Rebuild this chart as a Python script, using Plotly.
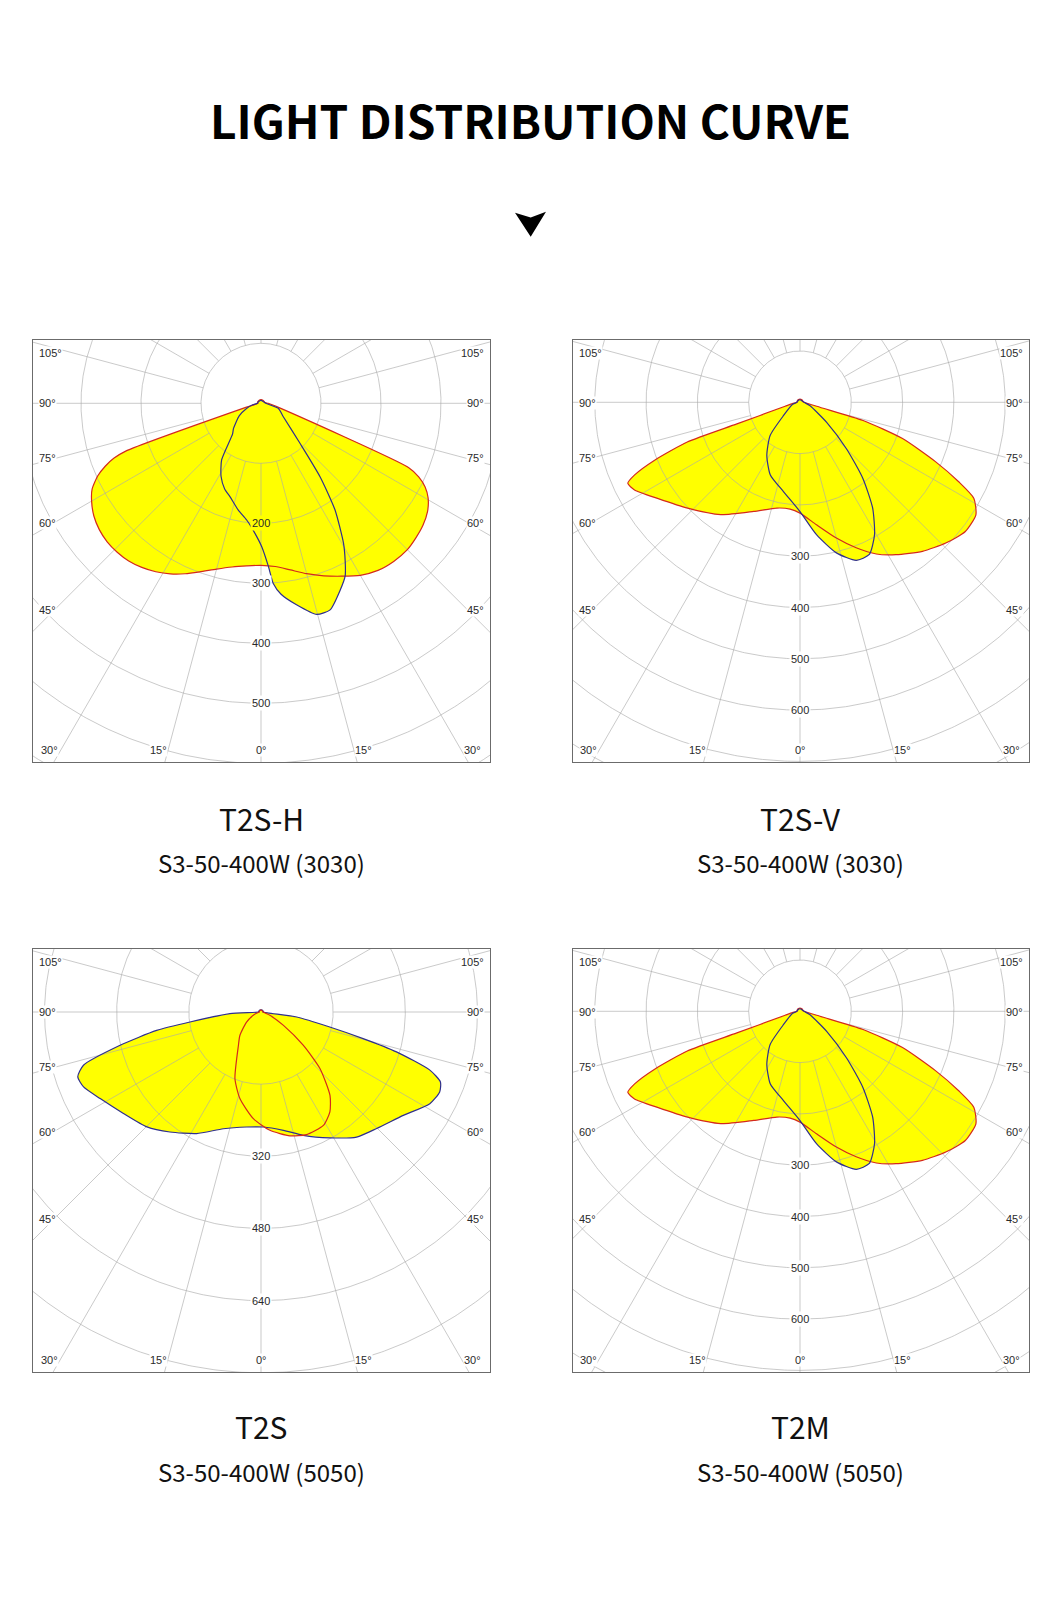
import numpy as np
import plotly.graph_objects as go

W, H = 1060, 1623

# ---------------- text ----------------
TITLE = "LIGHT DISTRIBUTION CURVE"
NAMES = ["T2S-H", "T2S-V", "T2S", "T2M"]
MODELS = ["S3-50-400W (3030)", "S3-50-400W (3030)", "S3-50-400W (5050)", "S3-50-400W (5050)"]

# ---------------- polar grid / tick values ----------------
RING_STEP = [100, 100, 160, 100]
RING_LABELS = [[200, 300, 400, 500], [300, 400, 500, 600], [320, 480, 640], [300, 400, 500, 600]]
SPOKE_STEP_DEG = 15
SIDE_ANGLE_LABELS = [105, 90, 75, 60, 45]
BOTTOM_ANGLE_LABELS = [-30, -15, 0, 15, 30]

# ---------------- intensity curves (angle deg from nadir, cd) ----------------
# negative angle = left half of the diagram
T2SH_MAIN_ANG = [-180, -150, -120, -100, -90, -75, -70.5, -69.5, -68, -66, -63, -60, -56, -52, -48,
                 -44, -40, -36, -32, -28, -24, -20, -15, -10, -5, 0, 5, 10, 15, 20, 25, 30, 35, 40, 45,
                 49, 53, 57, 60.5, 63, 65, 66.5, 76, 90, 100, 120, 150, 180]
T2SH_MAIN_CD = [6, 6, 6, 6, 5, 25, 240, 262, 280, 298, 316, 326, 336, 342, 345,
                345, 343, 338, 331, 322, 311, 299, 286, 277, 272, 270, 273, 282, 294, 306, 318, 331, 340, 344, 345,
                342, 338, 331, 320, 307, 290, 268, 33, 12, 7, 6, 6, 6]
T2SH_LOBE_ANG = [-180, -120, -90, -80, -70.8, -60, -47.6, -42.7, -34.8, -28.6, -23, -18.4, -12, -7, -3,
                 0.3, 2.6, 3.9, 6, 10, 14.8, 18.5, 23, 26, 28, 30.5, 34.8, 38.8, 44.3, 59.2, 73.9, 90, 120, 180]
T2SH_LOBE_CD = [5, 5, 6, 14, 25, 42, 62, 70, 115, 139, 155, 164, 182, 196, 215,
                239, 272, 301, 320, 341, 364, 363, 338, 320, 299, 271, 216, 157, 93, 43, 30, 8, 5, 5]

T2SV_MAIN_ANG = [-180, -150, -120, -100, -90, -80, -75, -71.1, -70.6, -68.3, -66.3, -64.8, -62.1, -56, -46.7,
                 -35.2, -23, -12.3, -5.3, 0, 7.7, 15, 21.1, 26.7, 32.2, 39.4, 46, 52, 57.4, 61.1,
                 63.4, 66.3, 70.5, 73.9, 76, 90, 100, 120, 150, 180]
T2SV_MAIN_CD = [6, 6, 6, 6, 6, 15, 30, 130, 233, 305, 352, 371, 365, 335, 301,
                268, 231, 211, 209, 216, 241, 274, 304, 331, 351, 376, 395, 409, 407, 387,
                346, 289, 212, 128, 40, 8, 6, 6, 6, 6]
T2SV_LOBE_ANG = [-180, -120, -90, -75, -51.3, -42, -32, -22.2, -10.5, 0, 7.1, 13.6, 19.6, 24.5, 29.4,
                 34.5, 39.6, 45, 53.1, 71.6, 90, 120, 180]
T2SV_LOBE_CD = [5, 5, 6, 15, 41, 87, 122, 153, 177, 213, 260, 302, 327, 326, 296,
                250, 192, 128, 65, 20, 8, 5, 5]

T2S_MAIN_ANG = [-180, -150, -120, -100, -90, -87, -82, -80, -76.7, -73.3, -70.5, -67.1, -61.7, -53.6, -44.8,
                -37.2, -27.9, -17.9, -7.1, 1.2, 10.7, 18.9, 28.7, 37.4, 44.8, 54, 61.5, 65.9, 68.7, 71,
                73.6, 75.4, 77.7, 82, 90, 100, 120, 150, 180]
T2S_MAIN_CD = [5, 5, 5, 5, 4, 69, 159, 235, 321, 411, 431, 427, 405, 379, 359,
               334, 305, 272, 257, 255, 267, 289, 318, 349, 364, 390, 426, 434, 427, 396,
               313, 234, 156, 80, 4, 5, 5, 5, 5]
T2S_LOBE_ANG = [-180, -120, -90, -70, -55.1, -42, -34.2, -21.3, -13.6, -4.1, 4.3, 13.2, 20.4, 28.8, 34.6,
                39.6, 46.2, 51.8, 59.2, 69.7, 90, 120, 180]
T2S_LOBE_CD = [4, 4, 4, 15, 39, 70, 89, 159, 198, 237, 263, 282, 290, 287, 269,
               240, 181, 119, 58, 21, 5, 4, 4]

T2M_MAIN_ANG = [-180, -150, -120, -100, -90, -80, -75, -71.1, -70.6, -68.3, -66.3, -64.8, -62.1, -56, -46.7,
                -35.2, -23, -12.3, -5.3, 0, 7.7, 15, 21.1, 26.7, 32.2, 39.4, 46, 52, 57.4, 61.1,
                63.4, 66.3, 70.5, 73.9, 76, 90, 100, 120, 150, 180]
T2M_MAIN_CD = [6, 6, 6, 6, 6, 15, 30, 130, 233, 305, 352, 371, 365, 335, 301,
               268, 231, 211, 209, 216, 241, 274, 304, 331, 351, 376, 395, 409, 407, 387,
               346, 289, 212, 128, 40, 8, 6, 6, 6, 6]
T2M_LOBE_ANG = [-180, -120, -90, -75, -51.3, -42, -32, -22.2, -10.5, 0, 7.1, 13.6, 19.6, 24.5, 29.4,
                34.5, 39.6, 45, 53.1, 71.6, 90, 120, 180]
T2M_LOBE_CD = [5, 5, 6, 15, 41, 87, 122, 153, 177, 213, 260, 302, 327, 326, 296,
               250, 192, 128, 65, 20, 8, 5, 5]

# ---------------- styles ----------------
YELLOW = "#FFFF00"
RED = "#d42a1c"
BLUE = "#2f2f8e"
GRID = "rgba(170,170,170,0.62)"
BORDER = "#6b6b6b"
LABEL_FONT = dict(family="Liberation Sans, Arial, sans-serif", size=11, color="#2a2a2a")
CJK = "Noto Sans CJK SC, Noto Sans, sans-serif"

PANELS = [
    dict(main=(T2SH_MAIN_ANG, T2SH_MAIN_CD), lobe=(T2SH_LOBE_ANG, T2SH_LOBE_CD), main_col=RED, lobe_col=BLUE),
    dict(main=(T2SV_MAIN_ANG, T2SV_MAIN_CD), lobe=(T2SV_LOBE_ANG, T2SV_LOBE_CD), main_col=RED, lobe_col=BLUE),
    dict(main=(T2S_MAIN_ANG, T2S_MAIN_CD), lobe=(T2S_LOBE_ANG, T2S_LOBE_CD), main_col=BLUE, lobe_col=RED),
    dict(main=(T2M_MAIN_ANG, T2M_MAIN_CD), lobe=(T2M_LOBE_ANG, T2M_LOBE_CD), main_col=RED, lobe_col=BLUE),
]

# panel geometry in page pixels: box (x0, y0, x1, y1), pole position, pixels per cd
GEOM = [
    dict(box=(33, 340, 490, 762), pole=(261, 403.3), s=0.600),
    dict(box=(573, 340, 1029, 762), pole=(800, 402.3), s=0.513),
    dict(box=(33, 949, 490, 1372), pole=(261, 1012.0), s=0.451),
    dict(box=(573, 949, 1029, 1372), pole=(800, 1011.3), s=0.513),
]
CAPTION_Y = [(818, 862), (818, 862), (1426, 1471), (1426, 1471)]
SIDE_LABEL_DY = [13, 63, 118, 182.5, 270]       # from box top, for SIDE_ANGLE_LABELS
BOTTOM_LABEL_DX = [-211.5, -102.5, 0, 102.5, 211.5]


def to_xy(ang, cd):
    a = np.radians(np.asarray(ang, dtype=float))
    r = np.asarray(cd, dtype=float)
    return r * np.sin(a), -r * np.cos(a)


def px(x):
    return x / W


def py(y):
    return 1 - y / H


def text_ann(x, y, text, font, xanchor="center", **kw):
    d = dict(x=x, y=y, text=text, showarrow=False, font=font, xanchor=xanchor, yanchor="middle")
    d.update(kw)
    return d


fig = go.Figure()
axes = {}
annotations = []

for i, (panel, g) in enumerate(zip(PANELS, GEOM)):
    n = i + 1
    xa = "x" if n == 1 else f"x{n}"
    ya = "y" if n == 1 else f"y{n}"
    x0, y0, x1, y1 = g["box"]
    cx, cy = g["pole"]
    s = g["s"]
    step = RING_STEP[i]
    xr = [(x0 - cx) / s, (x1 - cx) / s]
    yr = [-(y1 - cy) / s, (cy - y0) / s]
    common = dict(showgrid=False, zeroline=False, showticklabels=False, ticks="",
                  showline=True, mirror=True, linecolor=BORDER, linewidth=1.4, fixedrange=True)
    axes["xaxis" + ("" if n == 1 else str(n))] = dict(domain=[px(x0), px(x1)], range=xr, anchor=ya, **common)
    axes["yaxis" + ("" if n == 1 else str(n))] = dict(domain=[py(y1), py(y0)], range=yr, anchor=xa, **common)

    # yellow fills
    for ang, cd in (panel["main"], panel["lobe"]):
        x, y = to_xy(ang, cd)
        fig.add_trace(go.Scatter(x=x, y=y, xaxis=xa, yaxis=ya, mode="lines", fill="toself",
                                 fillcolor=YELLOW, line=dict(width=0, shape="spline", smoothing=0.6),
                                 hoverinfo="skip", showlegend=False))

    # grid: rings and spokes
    corners = [(x0, y0), (x1, y0), (x0, y1), (x1, y1)]
    rmax = max(np.hypot(qx - cx, qy - cy) for qx, qy in corners) / s
    nring = int(np.ceil(rmax / step))
    th = np.linspace(0, 2 * np.pi, 721)
    gx, gy = [], []
    for k in range(1, nring + 1):
        r = k * step
        gx += list(r * np.sin(th)) + [None]
        gy += list(-r * np.cos(th)) + [None]
    for a in range(0, 360, SPOKE_STEP_DEG):
        sx, sy = to_xy([a, a], [step, rmax * 1.2])
        gx += list(sx) + [None]
        gy += list(sy) + [None]
    fig.add_trace(go.Scatter(x=gx, y=gy, xaxis=xa, yaxis=ya, mode="lines",
                             line=dict(color=GRID, width=1), hoverinfo="skip", showlegend=False))

    # outlines
    for (ang, cd), col in ((panel["main"], panel["main_col"]), (panel["lobe"], panel["lobe_col"])):
        x, y = to_xy(ang, cd)
        fig.add_trace(go.Scatter(x=x, y=y, xaxis=xa, yaxis=ya, mode="lines",
                                 line=dict(color=col, width=1.2, shape="spline", smoothing=0.6),
                                 hoverinfo="skip", showlegend=False))

    # ring value labels along the 0 deg spoke
    r0 = max(np.interp(0, panel["main"][0], panel["main"][1]), np.interp(0, panel["lobe"][0], panel["lobe"][1]))
    for v in RING_LABELS[i]:
        annotations.append(text_ann(0, -v, str(v), LABEL_FONT, xref=xa, yref=ya,
                                    bgcolor=(YELLOW if v < r0 else "white"), borderpad=1))

    # angle labels
    for lab, dy in zip(SIDE_ANGLE_LABELS, SIDE_LABEL_DY):
        yy = py(y0 + dy)
        annotations.append(text_ann(px(x0 + 5), yy, f"{lab}°", LABEL_FONT, xanchor="left",
                                    xref="paper", yref="paper", bgcolor="white", borderpad=0))
        annotations.append(text_ann(px(x1 - 5), yy, f"{lab}°", LABEL_FONT, xanchor="right",
                                    xref="paper", yref="paper", bgcolor="white", borderpad=0))
    for lab, dx in zip(BOTTOM_ANGLE_LABELS, BOTTOM_LABEL_DX):
        annotations.append(text_ann(px(cx + dx), py(y1 - 12), f"{abs(lab)}°", LABEL_FONT,
                                    xref="paper", yref="paper", bgcolor="white", borderpad=0))

    # captions
    cy1, cy2 = CAPTION_Y[i]
    annotations.append(text_ann(px(cx), py(cy1), NAMES[i], dict(family=CJK, size=30, color="#111111"),
                                xref="paper", yref="paper"))
    annotations.append(text_ann(px(cx), py(cy2), MODELS[i], dict(family=CJK, size=24, color="#111111"),
                                xref="paper", yref="paper"))

annotations.append(text_ann(0.5, py(119), TITLE, dict(family=CJK, size=46, color="#000000", weight=700),
                            xref="paper", yref="paper"))

arrow = [(515, 212.7), (530.7, 217.5), (546, 211.7), (530.7, 236.7)]
path = "M " + " L ".join(f"{px(a):.5f},{py(b):.5f}" for a, b in arrow) + " Z"

fig.update_layout(
    width=W, height=H, margin=dict(l=0, r=0, t=0, b=0),
    paper_bgcolor="white", plot_bgcolor="white", showlegend=False,
    annotations=annotations,
    shapes=[dict(type="path", path=path, xref="paper", yref="paper",
                 fillcolor="black", line=dict(width=0))],
    **axes,
)

fig.write_html("out.html", config={"displayModeBar": False, "staticPlot": True},
               post_script="document.body.style.margin='0px';")
